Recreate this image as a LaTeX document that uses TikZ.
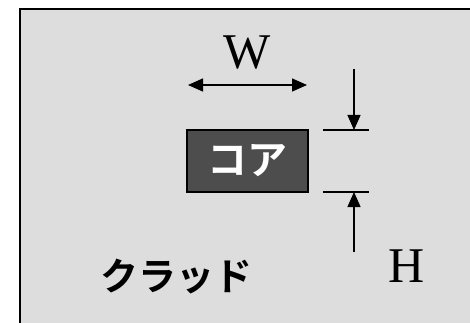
\documentclass[tikz,border=0pt]{standalone}
\usepackage{fontspec}
\setmainfont{Liberation Serif}
\newfontfamily\jpfont{Noto Sans CJK JP Bold}
\usetikzlibrary{arrows.meta}
\definecolor{bggray}{HTML}{DDDDDD}
\definecolor{coregray}{HTML}{4D4D4D}
\tikzset{
  dimline/.style={line width=1.3pt, -{Triangle[length=15pt,width=13pt]}},
  dimboth/.style={line width=1.3pt, {Triangle[length=15pt,width=13pt]}-{Triangle[length=15pt,width=13pt]}},
  extline/.style={line width=1.3pt},
}
\begin{document}
\begin{tikzpicture}[x=1pt,y=-1pt]
\useasboundingbox (0,0) rectangle (470,323);
\clip (0,0) rectangle (470,323);
\fill[white] (0,0) rectangle (470,323);
\draw[line width=2pt, fill=bggray] (20,9) rectangle (490,340);
\node[draw=black, line width=1.5pt, fill=coregray, minimum width=121pt, minimum height=62pt, inner sep=0pt] (core) at (247.5,161) {};
\node[text=white, font=\jpfont\fontsize{40}{40}\selectfont] (coretext) at (core.center) {コア};
\node[font=\fontsize{50}{50}\selectfont, inner sep=0pt] (W) at (247,53) {W};
\node[font=\fontsize{50}{50}\selectfont, inner sep=0pt] (H) at (407,266) {H};
\node[font=\jpfont\fontsize{38}{38}\selectfont, inner sep=0pt] (clad) at (176,277) {クラッド};
\coordinate (wl) at (188,85);
\coordinate (wr) at (307,85);
\draw[dimboth] (wl) -- (wr);
\coordinate (t1) at (323,130);
\coordinate (t2) at (369,130);
\coordinate (b1) at (323,192);
\coordinate (b2) at (369,192);
\draw[extline] (t1) -- (t2);
\draw[extline] (b1) -- (b2);
\coordinate (dtop) at (354,69);
\coordinate (dtip) at (354,130);
\coordinate (ubot) at (354,252);
\coordinate (utip) at (354,192);
\draw[dimline] (dtop) -- (dtip);
\draw[dimline] (ubot) -- (utip);
\end{tikzpicture}
\end{document}
